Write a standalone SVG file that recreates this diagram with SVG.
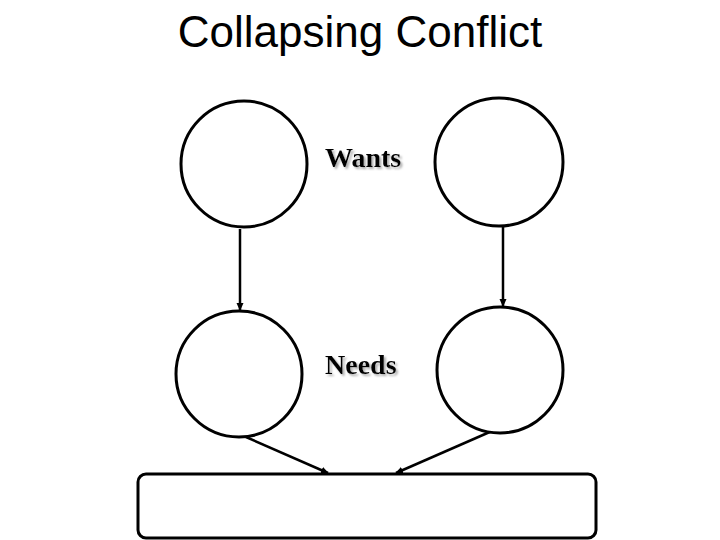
<svg xmlns="http://www.w3.org/2000/svg" width="720" height="540" viewBox="0 0 720 540">
<style>
.node{fill:#fff;stroke:#000;stroke-width:3}
.conn{stroke:#000;stroke-width:2.5;fill:none;marker-end:url(#ah)}
.title{font-family:"Liberation Sans",Arial,sans-serif;font-size:44px;fill:#000}
.lbl{font-family:"Liberation Serif","Times New Roman",serif;font-weight:bold;font-size:28px;fill:#000;filter:url(#sh)}
</style>
<defs>
<marker id="ah" markerWidth="8" markerHeight="8" refX="7" refY="4" orient="auto" markerUnits="userSpaceOnUse">
<path d="M0,0.5 L8,4 L0,7.5 Z" fill="#000"/>
</marker>
<filter id="sh" x="-10%" y="-20%" width="130%" height="150%">
<feDropShadow dx="2" dy="2" stdDeviation="0.8" flood-color="#999" flood-opacity="0.8"/>
</filter>
</defs>
<rect width="720" height="540" fill="#fff"/>
<text class="title" x="360" y="47" text-anchor="middle">Collapsing Conflict</text>
<g id="connectors">
<line class="conn" x1="240" y1="229" x2="240" y2="310"/>
<line class="conn" x1="503" y1="227" x2="503" y2="306"/>
<line class="conn" x1="246" y1="437" x2="328" y2="473"/>
<line class="conn" x1="492" y1="431" x2="396" y2="473"/>
</g>
<g id="want-left"><circle class="node" cx="244" cy="164" r="63"/></g>
<g id="want-right"><circle class="node" cx="499" cy="162" r="64"/></g>
<g id="need-left"><circle class="node" cx="239" cy="374" r="63"/></g>
<g id="need-right"><circle class="node" cx="500" cy="370" r="63"/></g>
<g id="result"><rect class="node" x="138" y="474" width="458" height="64" rx="8"/></g>
<text class="lbl" x="325" y="167">Wants</text>
<text class="lbl" x="325" y="374">Needs</text>
</svg>
